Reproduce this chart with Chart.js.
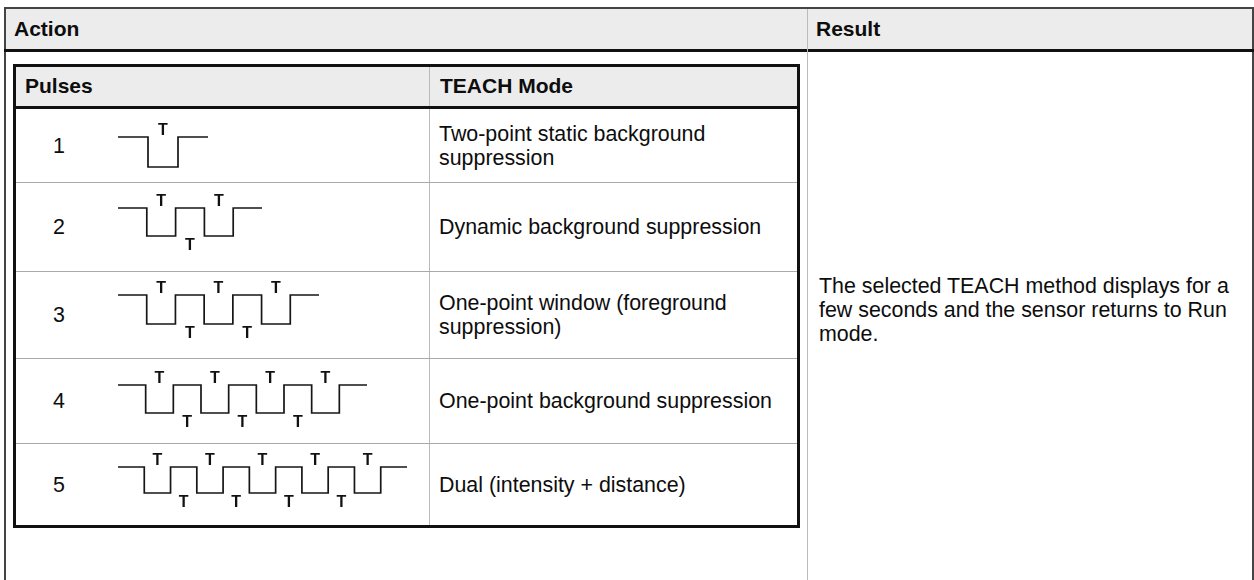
<!DOCTYPE html>
<html>
<head>
<meta charset="utf-8">
<script src="https://cdn.jsdelivr.net/npm/chart.js@4.4.1/dist/chart.umd.min.js"></script>
<style>
  html, body { margin: 0; padding: 0; background: #fff; }
  body { width: 1254px; height: 580px; position: relative; overflow: hidden;
         font-family: "Liberation Sans", Arial, sans-serif; color: #0d0d0d; }
  .abs { position: absolute; }
  .hdr { background: #ececec; }
  .line { position: absolute; }
  .th { position: absolute; font-weight: bold; font-size: 21px; line-height: 24px; display: flex; align-items: center; }
  .td { position: absolute; font-size: 21.4px; line-height: 24px; display: flex; align-items: center; }
  canvas { position: absolute; }
</style>
</head>
<body>
<div id="page"></div>
<script>
  // table content
  const headerLabels = ['Action', 'Result'];
  const innerHeaders = ['Pulses', 'TEACH Mode'];
  const pulseCounts = ['1', '2', '3', '4', '5'];
  const teachModes = [
    'Two-point static background suppression',
    'Dynamic background suppression',
    'One-point window (foreground suppression)',
    'One-point background suppression',
    'Dual (intensity + distance)'
  ];
  const resultText = 'The selected TEACH method displays for a few seconds and the sensor returns to Run mode.';

  // pulse trains: signal level of each segment (1 = high, 0 = low)
  const pulseLevels = [
    [1, 0, 1],
    [1, 0, 1, 0, 1],
    [1, 0, 1, 0, 1, 0, 1],
    [1, 0, 1, 0, 1, 0, 1, 0, 1],
    [1, 0, 1, 0, 1, 0, 1, 0, 1, 0, 1]
  ];

  // layout of the table
  const rowEdges = [108, 182, 271, 358, 443, 526];
  const waveBox = [
    { top: 137, seg: 30, amp: 30 },
    { top: 208, seg: 28.8, amp: 28 },
    { top: 295, seg: 28.7, amp: 29 },
    { top: 385, seg: 27.7, amp: 28 },
    { top: 467, seg: 26.3, amp: 26 }
  ];

  const page = document.getElementById('page');
  function box(cls, l, t, w, h, bg, text) {
    const d = document.createElement('div');
    d.className = cls;
    d.style.left = l + 'px';
    d.style.top = t + 'px';
    d.style.width = w + 'px';
    d.style.height = h + 'px';
    if (bg) d.style.background = bg;
    if (text !== undefined) d.textContent = text;
    page.appendChild(d);
    return d;
  }

  // outer header
  box('abs hdr', 5, 9, 1247, 40);
  box('th', 14, 9, 780, 40, null, headerLabels[0]);
  box('th', 816, 9, 420, 40, null, headerLabels[1]);
  // outer borders
  box('line', 4, 7, 1250, 2, '#444');
  box('line', 4, 7, 2, 580, '#444');
  box('line', 1252, 7, 2, 580, '#444');
  box('line', 4, 49, 1250, 3, '#111');
  box('line', 807, 9, 1, 580, '#bbb');

  // inner table
  box('abs hdr', 16, 66, 781, 40);
  box('th', 25, 66, 390, 40, null, innerHeaders[0]);
  box('th', 440, 66, 350, 40, null, innerHeaders[1]);
  box('line', 429, 66, 1, 460, '#bbb');
  box('line', 14, 106, 785, 3, '#111');
  for (let i = 1; i < rowEdges.length - 1; i++) {
    box('line', 16, rowEdges[i], 781, 1, '#aaa');
  }
  box('line', 13, 64, 787, 3, '#111');
  box('line', 13, 525, 787, 3, '#111');
  box('line', 13, 64, 3, 464, '#111');
  box('line', 797, 64, 3, 464, '#111');

  // rows text
  pulseCounts.forEach((p, i) => {
    const t = rowEdges[i] + 1, h = rowEdges[i + 1] - rowEdges[i] - 1;
    box('td', 53, t, 40, h, null, p);
    box('td', 439, t, 352, h, null, teachModes[i]);
  });
  const res = box('td', 819, 274, 425, 80, null, resultText);
  res.style.display = 'block';

  // T markers between edges
  const tMarks = {
    id: 'tMarks',
    afterDatasetsDraw(chart) {
      const { ctx, scales: { x, y } } = chart;
      const lv = chart.data.datasets[0].levels;
      ctx.save();
      ctx.font = 'bold 16px "Liberation Sans", Arial, sans-serif';
      ctx.fillStyle = '#111';
      ctx.textAlign = 'center';
      ctx.textBaseline = 'alphabetic';
      for (let i = 1; i < lv.length - 1; i++) {
        const px = x.getPixelForValue(i + 0.5);
        if (lv[i] === 0) {
          ctx.fillText('T', px, y.getPixelForValue(1) - 2);
        } else {
          ctx.fillText('T', px, y.getPixelForValue(0) + 14);
        }
      }
      ctx.restore();
    }
  };

  pulseLevels.forEach((levels, i) => {
    const b = waveBox[i];
    const n = levels.length;
    const pad = 4, vpad = 22;
    const cv = document.createElement('canvas');
    cv.width = Math.round(n * b.seg + pad * 2);
    cv.height = b.amp + vpad * 2;
    cv.style.left = (118 - pad) + 'px';
    cv.style.top = (b.top - vpad) + 'px';
    page.appendChild(cv);

    const pts = levels.map((v, k) => ({ x: k, y: v }));
    pts.push({ x: n, y: levels[n - 1] });

    new Chart(cv, {
      type: 'line',
      data: {
        datasets: [{
          data: pts,
          levels,
          stepped: true,
          borderColor: '#161616',
          borderWidth: 1.7,
          pointRadius: 0,
          fill: false,
          clip: false
        }]
      },
      options: {
        responsive: false,
        animation: false,
        events: [],
        layout: { padding: { left: pad, right: pad, top: vpad, bottom: vpad } },
        plugins: { legend: { display: false }, tooltip: { enabled: false } },
        scales: {
          x: { type: 'linear', min: 0, max: n, display: false },
          y: { min: 0, max: 1, display: false }
        }
      },
      plugins: [tMarks]
    });
  });
</script>
</body>
</html>
